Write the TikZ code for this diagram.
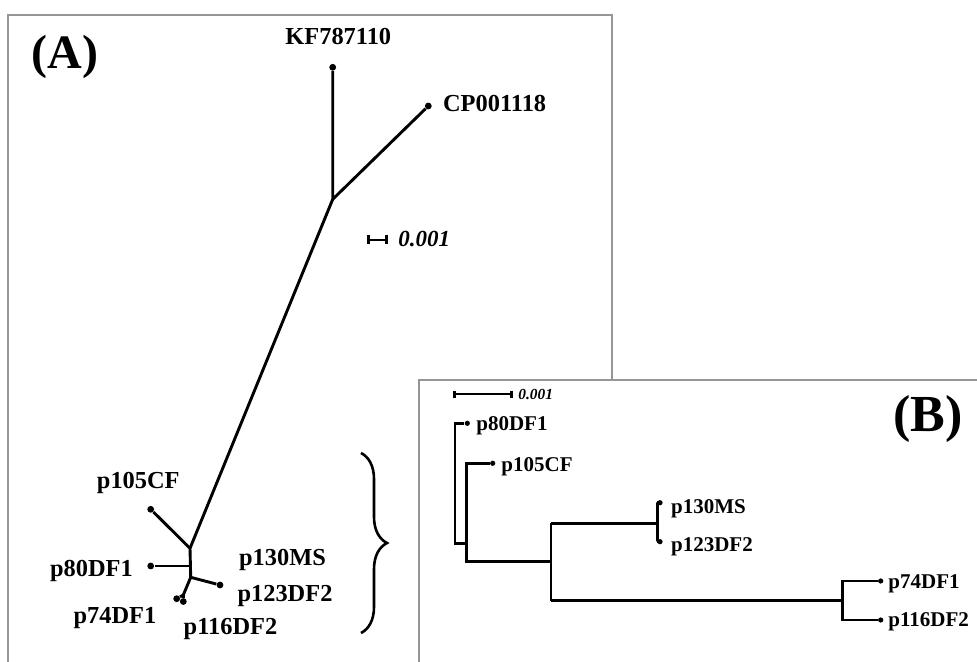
\documentclass[tikz,border=0pt]{standalone}
\usepackage{fontspec}
\setmainfont{Liberation Serif}
\usetikzlibrary{arrows.meta,decorations.pathreplacing}
\definecolor{framegray}{RGB}{150,150,150}

\begin{document}
\begin{tikzpicture}[x=0.5pt, y=-0.5pt,
    every node/.style={inner sep=0pt, text depth=0pt},
    taxonA/.style={font=\fontsize{12.2}{14}\selectfont\bfseries},
    taxonB/.style={font=\fontsize{10.5}{12}\selectfont\bfseries, anchor=west},
    tipA/.style={circle, fill, minimum size=3.4pt},
    tipB/.style={circle, fill, minimum size=2.6pt},
    branchA/.style={line width=1.45pt},
    branchB/.style={line width=1.4pt},
    panel/.style={draw=framegray, line width=1pt, fill=white}]
    \useasboundingbox (0,0) rectangle (977,662);
    \clip (0,0) rectangle (977,662);

    % ── Panel A: unrooted tree ───────────────────────────────────────────────
    \draw[panel] (8,15) rectangle (612,700);
    \node[font=\fontsize{24}{28}\selectfont\bfseries, anchor=base] (labA) at (65,69) {(A)};

    \coordinate (ra) at (332.7,199.3);
    \coordinate (ja) at (190,548.3);
    \coordinate (jb) at (190,566);
    \coordinate (jc) at (190.7,577.3);
    \coordinate (jd) at (183.3,595);
    \node[tipA] (kf)   at (332.7,67.3) {};
    \node[tipA] (cp)   at (428.3,106) {};
    \node[tipA] (t105) at (150.7,509.3) {};
    \node[tipA] (t80)  at (150.7,566) {};
    \node[tipA] (t123) at (220,585) {};
    \node[tipA] (t74)  at (176.7,598.7) {};
    \node[tipA] (t116) at (183.3,601.5) {};

    \draw[branchA] (kf) -- (ra) -- (cp);
    \draw[branchA] (ra) -- (ja);
    \draw[branchA] (t105) -- (ja) -- (jc);
    \draw[branchA] (t80) -- (jb);
    \draw[branchA] (t123) -- (jc) -- (jd) -- (t74);
    \draw[branchA] (jd) -- (t116);

    \node[taxonA] (nkf)   at (338.3,36.7) {KF787110};
    \node[taxonA, anchor=west] (ncp) at (442.7,103.3) {CP001118};
    \node[taxonA] (n105A) at (138.3,480) {p105CF};
    \node[taxonA] (n80A)  at (91.5,568.5) {p80DF1};
    \node[taxonA] (n74A)  at (115,615) {p74DF1};
    \node[taxonA] (n116A) at (230.5,626) {p116DF2};
    \node[taxonA] (n130A) at (282.5,557) {p130MS};
    \node[taxonA] (n123A) at (285,593.5) {p123DF2};

    % scale bar
    \coordinate (sa1) at (367,240);
    \coordinate (sa2) at (388,240);
    \draw[line width=1.3pt, {Bar[width=4.5pt]}-{Bar[width=4.5pt]}] (sa1) -- (sa2);
    \node[font=\fontsize{11.5}{13}\selectfont\bfseries\itshape, anchor=west] (scA) at (398,239) {0.001};

    % brace towards panel B
    \coordinate (br1) at (361,453);
    \coordinate (br2) at (361,633);
    \draw[line width=1.3pt, decorate, decoration={brace, amplitude=13pt, aspect=0.5}] (br1) -- (br2);

    % ── Panel B: rectangular tree ────────────────────────────────────────────
    \draw[panel] (419,380) rectangle (1000,700);
    \node[font=\fontsize{26}{30}\selectfont\bfseries, anchor=base] (labB) at (928,431) {(B)};

    \coordinate (b1t) at (455,423.3);
    \coordinate (b1b) at (455,543.3);
    \coordinate (b2)  at (466.7,543.3);
    \coordinate (b2t) at (466.7,463.3);
    \coordinate (b2b) at (466.7,561.7);
    \coordinate (b3)  at (551,561.7);
    \coordinate (b3t) at (551,523.3);
    \coordinate (b3b) at (551,600.7);
    \coordinate (b4)  at (657.3,523.3);
    \coordinate (b4t) at (657.3,502.7);
    \coordinate (b4b) at (657.3,541.7);
    \coordinate (b5)  at (842.7,600.7);
    \coordinate (b5t) at (842.7,581);
    \coordinate (b5b) at (842.7,620);
    \node[tipB] (q80)  at (467.3,423.3) {};
    \node[tipB] (q105) at (492.7,463.3) {};
    \node[tipB] (q130) at (660,502.7) {};
    \node[tipB] (q123) at (660,541.7) {};
    \node[tipB] (q74)  at (880.7,581) {};
    \node[tipB] (q116) at (880.7,620) {};

    \draw[branchB] (q80) -- (b1t) -- (b1b) -- (b2);
    \draw[branchB] (q105) -- (b2t) -- (b2b) -- (b3);
    \draw[branchB] (b3t) -- (b3b);
    \draw[branchB] (b3t) -- (b4);
    \draw[branchB] (q130) -- (b4t) -- (b4b) -- (q123);
    \draw[branchB] (b3b) -- (b5);
    \draw[branchB] (q74) -- (b5t) -- (b5b) -- (q116);

    \foreach \nm/\xx/\yy/\txt in {n80B/476/424/p80DF1, n105B/501/464.5/p105CF,
        n130B/670.7/506.4/p130MS, n123B/670.7/544.8/p123DF2,
        n74B/888/581.4/p74DF1, n116B/888/619.8/p116DF2} {
      \node[taxonB] (\nm) at (\xx,\yy) {\txt};
    }

    % scale bar
    \coordinate (sb1) at (453,394);
    \coordinate (sb2) at (513,394);
    \draw[line width=1.3pt, {Bar[width=3.5pt]}-{Bar[width=3.5pt]}] (sb1) -- (sb2);
    \node[font=\fontsize{7.7}{9}\selectfont\bfseries\itshape, anchor=west] (scB) at (518,394) {0.001};
  \end{tikzpicture}
\end{document}
